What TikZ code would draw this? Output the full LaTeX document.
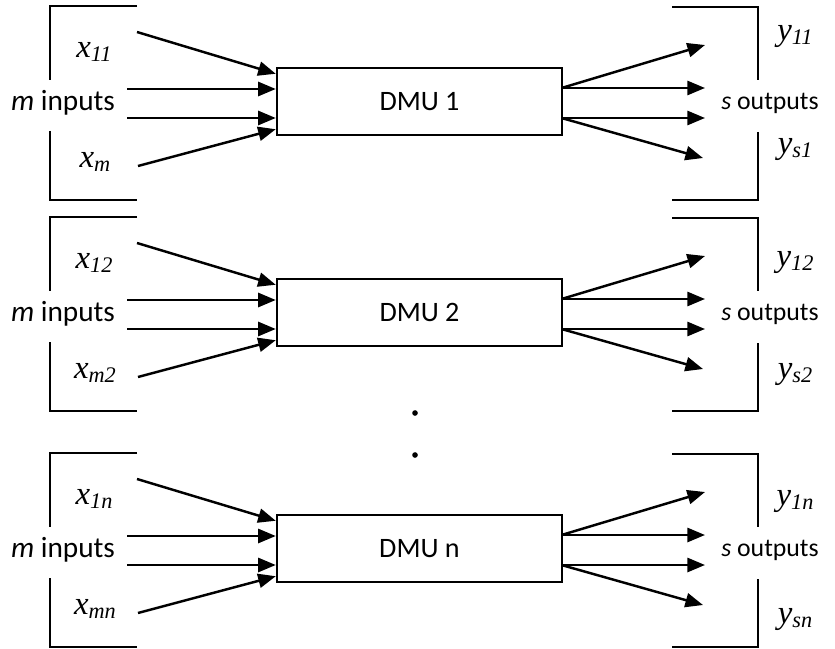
\documentclass[tikz,border=0pt]{standalone}
\usepackage{fontspec}
\setmainfont{Carlito}
\newfontfamily\varfont{Liberation Serif}
\usetikzlibrary{arrows.meta,calc}
\newcommand{\dmuvar}[2]{{\varfont\itshape\fontsize{28}{28}\selectfont #1\raisebox{-0.25ex}{\fontsize{19}{19}\selectfont #2}}}

\begin{document}
\begin{tikzpicture}[x=0.03cm,y=-0.03cm,line width=2.1pt,>={Triangle[length=15pt,width=12pt]}]
    \tikzstyle{dmu}=[draw, rectangle, minimum width=8.55cm, minimum height=2.01cm, inner sep=0pt, font=\fontsize{24}{28}\selectfont]
    \tikzstyle{lbl}=[inner sep=0pt, font=\fontsize{25}{28}\selectfont]
    \tikzstyle{flow}=[->, line width=2.1pt]
    \tikzstyle{bracket}=[line width=2.2pt]
    \useasboundingbox (0,0) rectangle (835,649);

    \foreach \k/\off/\xsub/\ytop/\ybot in {1/0/m/37/150, 2/211/m2/52/164, n/447/mn/55/173} {
      \begin{scope}[shift={(0,\off)}]
        \node[dmu] (dmu\k) at (419.5,101.5) {DMU \k};

        % inputs
        \coordinate (in1) at (137,32);
        \coordinate (in2) at (127,89);
        \coordinate (in3) at (127,118);
        \coordinate (in4) at (138,166);
        \draw[flow] (in1) -- ($(dmu\k.north west)+(0,7)$);
        \draw[flow] (in2) -- (in2 -| dmu\k.west);
        \draw[flow] (in3) -- (in3 -| dmu\k.west);
        \draw[flow] (in4) -- ($(dmu\k.south west)+(0,-7)$);

        % outputs
        \coordinate (out1) at (705,45);
        \coordinate (out2) at (705,88);
        \coordinate (out3) at (705,118);
        \coordinate (out4) at (703,158);
        \draw[flow] ($(dmu\k.east)+(0,-14)$) -- (out1);
        \draw[flow] (out2 -| dmu\k.east) -- (out2);
        \draw[flow] (out3 -| dmu\k.east) -- (out3);
        \draw[flow] ($(dmu\k.east)+(0,17)$) -- (out4);

        % brackets
        \draw[bracket] (137,6) -| (50,80);
        \draw[bracket] (50,131) |- (137,200);
        \draw[bracket] (672,7) -| (758,80);
        \draw[bracket] (758,132) |- (672,200);

        \node[lbl] (xtop\k) at (94,52) {\dmuvar{x}{1\k}};
        \node[lbl] (inputs\k) at (63,103) {\textit{m} inputs};
        \node[lbl] (xbot\k) at (95,162) {\dmuvar{x}{\xsub}};
        \node[lbl, font=\fontsize{22}{28}\selectfont] (outputs\k) at (770,103) {\textit{s} outputs};
        \node[lbl] (ytop\k) at (795,\ytop) {\dmuvar{y}{1\k}};
        \node[lbl] (ybot\k) at (795,\ybot) {\dmuvar{y}{s\k}};
      \end{scope}
    }

    \fill (415,413) circle[radius=2.4pt];
    \fill (415,455) circle[radius=2.4pt];
\end{tikzpicture}
\end{document}
